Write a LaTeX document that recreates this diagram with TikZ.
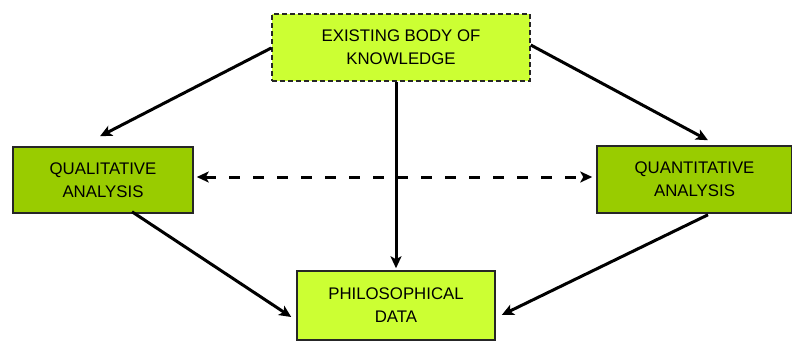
\documentclass[tikz,border=0pt]{standalone}
\usepackage{fontspec}
\setmainfont{Liberation Sans}
\usetikzlibrary{arrows.meta}
\definecolor{limegreen}{RGB}{204,255,51}
\definecolor{olivegreen}{RGB}{153,204,0}
\begin{document}
\begin{tikzpicture}[x=1pt,y=-1pt,
  box/.style={draw=black!85, line width=1.5pt, align=center, inner sep=0pt,
    font=\fontsize{16.8}{23}\selectfont, text=black},
  litebox/.style={box, fill=limegreen},
  darkbox/.style={box, fill=olivegreen},
  arr/.style={line width=3pt, -{Stealth[length=12pt,width=11pt,inset=3pt]}},
  dasharr/.style={line width=3pt, {Stealth[length=12pt,width=11pt,inset=3pt]}-{Stealth[length=12pt,width=11pt,inset=3pt]}, dash pattern=on 11pt off 13pt}]
\useasboundingbox (0,0) rectangle (792,341);

% boxes
\node[litebox, dash pattern=on 5pt off 3pt, minimum width=258pt, minimum height=67pt]
  (know) at (401,47.5) {EXISTING BODY OF\\KNOWLEDGE};
\node[darkbox, minimum width=180pt, minimum height=66pt]
  (qual) at (103,180) {QUALITATIVE\\ANALYSIS};
\node[darkbox, minimum width=195pt, minimum height=67pt]
  (quant) at (694.5,179.5) {QUANTITATIVE\\ANALYSIS};
\node[litebox, minimum width=198pt, minimum height=69pt]
  (phil) at (396,305.5) {PHILOSOPHICAL\\DATA};

% connectors
\draw[dasharr] ([xshift=3pt,yshift=3pt]qual.east) -- ([xshift=-4pt,yshift=2.5pt]quant.west);
\draw[arr] ([yshift=-0.5pt]know.west) -- ([xshift=-3pt,yshift=10pt]qual.north);
\draw[arr] ([yshift=2.5pt]know.east) -- ([xshift=13.5pt,yshift=5pt]quant.north);
\draw[arr] ([xshift=-5pt]know.south) -- ([yshift=2pt]phil.north);
\draw[arr] ([xshift=29pt,yshift=2pt]qual.south) -- ([xshift=-5pt,yshift=-11.5pt]phil.west);
\draw[arr] ([xshift=13.5pt,yshift=-1pt]quant.south) -- ([xshift=6pt,yshift=-9.5pt]phil.east);
\end{tikzpicture}
\end{document}
